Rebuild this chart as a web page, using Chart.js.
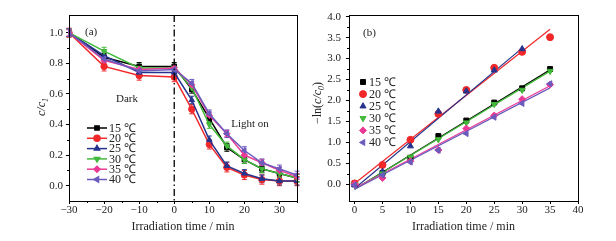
<!DOCTYPE html>
<html>
<head>
<meta charset="utf-8">
<script src="https://cdn.jsdelivr.net/npm/chart.js@4/dist/chart.umd.min.js"></script>
<style>
  body { margin: 0; background: #fff; }
  canvas { position: absolute; top: 0; }
</style>
</head>
<body>
<canvas id="chartA" width="308" height="241" style="left:0"></canvas>
<canvas id="chartB" width="308" height="241" style="left:308px"></canvas>
<script>
// series shared by both panels
const seriesNames = ['15 ℃', '20 ℃', '25 ℃', '30 ℃', '35 ℃', '40 ℃'];
const colors = ['#000000', '#f0282a', '#25338e', '#42b93a', '#ea3a95', '#6a5bbd'];
const markers = ['rect', 'circle', 'triangle', 'triangle', 'rectRot', 'triangle'];
const markerRot = [0, 0, 0, 180, 0, -90];

// (a) c/c1 vs time
const timeA = [-30, -20, -10, 0, 5, 10, 15, 20, 25, 30, 35];
const ratio15 = [1.0, 0.84, 0.78, 0.78, 0.63, 0.44, 0.25, 0.17, 0.11, 0.08, 0.05];
const ratio20 = [1.0, 0.78, 0.72, 0.71, 0.50, 0.27, 0.12, 0.07, 0.04, 0.03, 0.03];
const ratio25 = [1.0, 0.85, 0.74, 0.74, 0.56, 0.30, 0.13, 0.08, 0.045, 0.03, 0.03];
const ratio30 = [1.0, 0.88, 0.77, 0.77, 0.64, 0.40, 0.26, 0.17, 0.11, 0.08, 0.05];
const ratio35 = [1.0, 0.82, 0.76, 0.77, 0.66, 0.46, 0.34, 0.20, 0.15, 0.10, 0.06];
const ratio40 = [1.0, 0.83, 0.75, 0.76, 0.67, 0.47, 0.34, 0.23, 0.15, 0.11, 0.07];
const ratioErr = [0.025, 0.03, 0.025, 0.025, 0.02, 0.025];
const xTicksA = [-30, -20, -10, 0, 10, 20, 30];
const yTicksA = [0.0, 0.2, 0.4, 0.6, 0.8, 1.0];

// (b) -ln(c/c0) vs time, with fitted lines
const timeB = [0, 5, 10, 15, 20, 25, 30, 35];
const lnc15 = [0, 0.27, 0.63, 1.15, 1.52, 1.95, 2.29, 2.75];
const lnc20 = [0.02, 0.46, 1.06, 1.68, 2.25, 2.78, 3.16, 3.51];
const lnc25 = [-0.02, 0.30, 0.91, 1.74, 2.22, 2.72, 3.23, null];
const lnc30 = [0, 0.25, 0.65, 1.07, 1.47, 1.91, 2.25, 2.70];
const lnc35 = [0, 0.15, 0.55, 0.82, 1.33, 1.64, 2.03, 2.38];
const lnc40 = [-0.02, 0.22, 0.53, 0.81, 1.21, 1.60, 1.93, 2.40];
const fitStart = [-0.12, 0.02, -0.10, -0.12, -0.10, -0.12];
const fitEndX = [35, 35, 30, 35, 35, 35];
const fitEnd = [2.73, 3.70, 3.25, 2.70, 2.35, 2.30];
const xTicksB = [0, 5, 10, 15, 20, 25, 30, 35, 40];
const yTicksB = [0.0, 0.5, 1.0, 1.5, 2.0, 2.5, 3.0, 3.5, 4.0];

const ratios = [ratio15, ratio20, ratio25, ratio30, ratio35, ratio40];
const lncs = [lnc15, lnc20, lnc25, lnc30, lnc35, lnc40];

const FONT = "'Liberation Serif', 'Times New Roman', serif";
const minus = v => String(v).replace('-', '\u2212');

function partFont(p, size) {
  return (p.it ? 'italic ' : '') + (p.sub ? Math.round(size * 0.7) : size) + 'px ' + FONT;
}

// rotated y title with italic / subscript pieces
function drawVertical(ctx, parts, x, y, size) {
  ctx.save();
  ctx.translate(x, y);
  ctx.rotate(-Math.PI / 2);
  ctx.fillStyle = '#222';
  ctx.textBaseline = 'middle';
  ctx.textAlign = 'left';
  const widths = parts.map(p => { ctx.font = partFont(p, size); return ctx.measureText(p.t).width; });
  let cx = -widths.reduce((a, b) => a + b, 0) / 2;
  parts.forEach((p, i) => {
    ctx.font = partFont(p, size);
    ctx.fillText(p.t, cx, p.sub ? size * 0.3 : 0);
    cx += widths[i];
  });
  ctx.restore();
}

function makeDecor(cfg) {
  return {
    id: 'decor',
    beforeDatasetsDraw(chart) {
      if (!cfg.errors) return;
      const ctx = chart.ctx, ys = chart.scales.y;
      ctx.save();
      ctx.lineWidth = 1;
      cfg.errors.forEach((err, i) => {
        const meta = chart.getDatasetMeta(i);
        ctx.strokeStyle = colors[i];
        meta.data.forEach((pt, j) => {
          const v = chart.data.datasets[i].data[j].y;
          const y1 = ys.getPixelForValue(v - err), y2 = ys.getPixelForValue(v + err);
          ctx.beginPath();
          ctx.moveTo(pt.x, y1); ctx.lineTo(pt.x, y2);
          ctx.moveTo(pt.x - 2.5, y1); ctx.lineTo(pt.x + 2.5, y1);
          ctx.moveTo(pt.x - 2.5, y2); ctx.lineTo(pt.x + 2.5, y2);
          ctx.stroke();
        });
      });
      ctx.restore();
    },
    afterDraw(chart) {
      const ctx = chart.ctx, a = chart.chartArea;
      const xs = chart.scales.x, ys = chart.scales.y;
      ctx.save();
      // frame
      ctx.strokeStyle = '#000';
      ctx.lineWidth = 1;
      ctx.strokeRect(Math.round(a.left) + 0.5, Math.round(a.top) + 0.5,
        Math.round(a.right - a.left), Math.round(a.bottom - a.top));
      // minor ticks
      ctx.beginPath();
      cfg.minorX.forEach(v => {
        const px = Math.round(xs.getPixelForValue(v)) + 0.5;
        ctx.moveTo(px, a.bottom); ctx.lineTo(px, a.bottom + 2);
      });
      cfg.minorY.forEach(v => {
        const py = Math.round(ys.getPixelForValue(v)) + 0.5;
        ctx.moveTo(a.left, py); ctx.lineTo(a.left - 2, py);
      });
      ctx.stroke();
      // dash-dot divider
      if (cfg.divider != null) {
        const px = xs.getPixelForValue(cfg.divider);
        ctx.setLineDash([7, 3, 1.5, 3]);
        ctx.lineWidth = 1.3;
        ctx.beginPath();
        ctx.moveTo(px, a.top); ctx.lineTo(px, a.bottom);
        ctx.stroke();
        ctx.setLineDash([]);
      }
      // notes
      ctx.fillStyle = '#222';
      ctx.textBaseline = 'middle';
      cfg.notes.forEach(n => {
        ctx.font = '11px ' + FONT;
        ctx.textAlign = n.align || 'left';
        ctx.fillText(n.t, a.left + n.dx, a.top + n.dy);
      });
      // legend
      const L = cfg.legend;
      seriesNames.forEach((name, i) => {
        const y = a.top + L.dy + i * L.gap;
        ctx.strokeStyle = colors[i];
        ctx.fillStyle = colors[i];
        if (L.line) {
          ctx.lineWidth = 1.5;
          ctx.beginPath();
          ctx.moveTo(a.left + L.dx - 10, y); ctx.lineTo(a.left + L.dx + 10, y);
          ctx.stroke();
        }
        Chart.helpers.drawPoint(ctx, { pointStyle: markers[i], rotation: markerRot[i], radius: L.r, borderWidth: 1 },
          a.left + L.dx, y);
        ctx.fillStyle = '#222';
        ctx.font = '12px ' + FONT;
        ctx.textAlign = 'left';
        ctx.fillText(name, a.left + L.tx, y + 0.5);
      });
      // axis titles
      drawVertical(ctx, cfg.yTitle, cfg.yTitleX, cfg.yTitleY, 12);
      ctx.fillStyle = '#222';
      ctx.font = '12px ' + FONT;
      ctx.textAlign = 'center';
      ctx.textBaseline = 'middle';
      ctx.fillText('Irradiation time / min', (a.left + a.right) / 2, 227);
      ctx.restore();
    }
  };
}

function axes(xmin, xmax, xt, ymin, ymax, yt, yWidth, yPad) {
  const common = { font: { family: FONT, size: 11 }, color: '#222' };
  return {
    x: {
      type: 'linear', min: xmin, max: xmax,
      afterBuildTicks: s => { s.ticks = xt.map(v => ({ value: v })); },
      ticks: Object.assign({ callback: v => minus(v), padding: 0, maxRotation: 0 }, common),
      grid: { drawOnChartArea: false, tickLength: 3, color: '#000' },
      border: { color: '#000' },
      afterFit: s => { s.height = 40; }
    },
    y: {
      min: ymin, max: ymax,
      afterBuildTicks: s => { s.ticks = yt.map(v => ({ value: v })); },
      ticks: Object.assign({ callback: v => v.toFixed(1), padding: yPad }, common),
      grid: { drawOnChartArea: false, tickLength: 3, color: '#000' },
      border: { color: '#000' },
      afterFit: s => { s.width = yWidth; }
    }
  };
}

const base = {
  responsive: false,
  animation: false,
  events: [],
  plugins: { legend: { display: false }, tooltip: { enabled: false } }
};

// panel (a)
new Chart(document.getElementById('chartA'), {
  type: 'line',
  data: {
    datasets: ratios.map((arr, i) => ({
      label: seriesNames[i],
      data: timeA.map((t, j) => ({ x: t, y: arr[j] })),
      borderColor: colors[i],
      backgroundColor: colors[i],
      borderWidth: 1.5,
      pointStyle: markers[i],
      rotation: markerRot[i],
      pointRadius: 3.2,
      pointBorderWidth: 1,
      order: 5 - i
    }))
  },
  options: Object.assign({}, base, {
    layout: { padding: { top: 15, right: 11, left: 0, bottom: 0 } },
    scales: axes(-30, 35, xTicksA, -0.1, 1.116, yTicksA, 69, 3)
  }),
  plugins: [makeDecor({
    errors: ratioErr,
    minorX: [-25, -15, -5, 5, 15, 25, 35],
    minorY: [0.1, 0.3, 0.5, 0.7, 0.9],
    divider: 0,
    notes: [
      { t: '(a)', dx: 16, dy: 17 },
      { t: 'Dark', dx: 58, dy: 84, align: 'center' },
      { t: 'Light on', dx: 181, dy: 109, align: 'center' }
    ],
    legend: { line: true, dx: 28, tx: 40, dy: 113, gap: 10.3, r: 3 },
    yTitle: [{ t: 'c/c', it: true }, { t: '1', it: true, sub: true }],
    yTitleX: 42, yTitleY: 107
  })]
});

// panel (b)
const pointSets = lncs.map((arr, i) => ({
  type: 'scatter',
  label: seriesNames[i],
  data: timeB.map((t, j) => ({ x: t, y: arr[j] })).filter(p => p.y !== null),
  borderColor: colors[i],
  backgroundColor: colors[i],
  pointStyle: markers[i],
  rotation: markerRot[i],
  pointRadius: 3.5,
  pointBorderWidth: 1,
  showLine: false,
  order: 10 - i
}));
const fitSets = fitStart.map((y0, i) => ({
  type: 'line',
  label: seriesNames[i] + ' fit',
  data: [{ x: 0, y: y0 }, { x: fitEndX[i], y: fitEnd[i] }],
  borderColor: colors[i],
  borderWidth: 1.2,
  pointRadius: 0,
  order: 20 - i
}));

new Chart(document.getElementById('chartB'), {
  type: 'scatter',
  data: { datasets: pointSets.concat(fitSets) },
  options: Object.assign({}, base, {
    layout: { padding: { top: 15, right: 38, left: 0, bottom: 0 } },
    scales: axes(-1, 40, xTicksB, -0.4, 4.04, yTicksB, 41, 5)
  }),
  plugins: [makeDecor({
    minorX: [],
    minorY: [0.25, 0.75, 1.25, 1.75, 2.25, 2.75, 3.25, 3.75],
    divider: null,
    notes: [{ t: '(b)', dx: 14, dy: 18 }],
    legend: { line: false, dx: 14, tx: 20, dy: 67, gap: 12.1, r: 3.5 },
    yTitle: [{ t: '\u2212ln(' }, { t: 'c/c', it: true }, { t: '0', it: true, sub: true }, { t: ')' }],
    yTitleX: 10, yTitleY: 103
  })]
});
</script>
</body>
</html>
